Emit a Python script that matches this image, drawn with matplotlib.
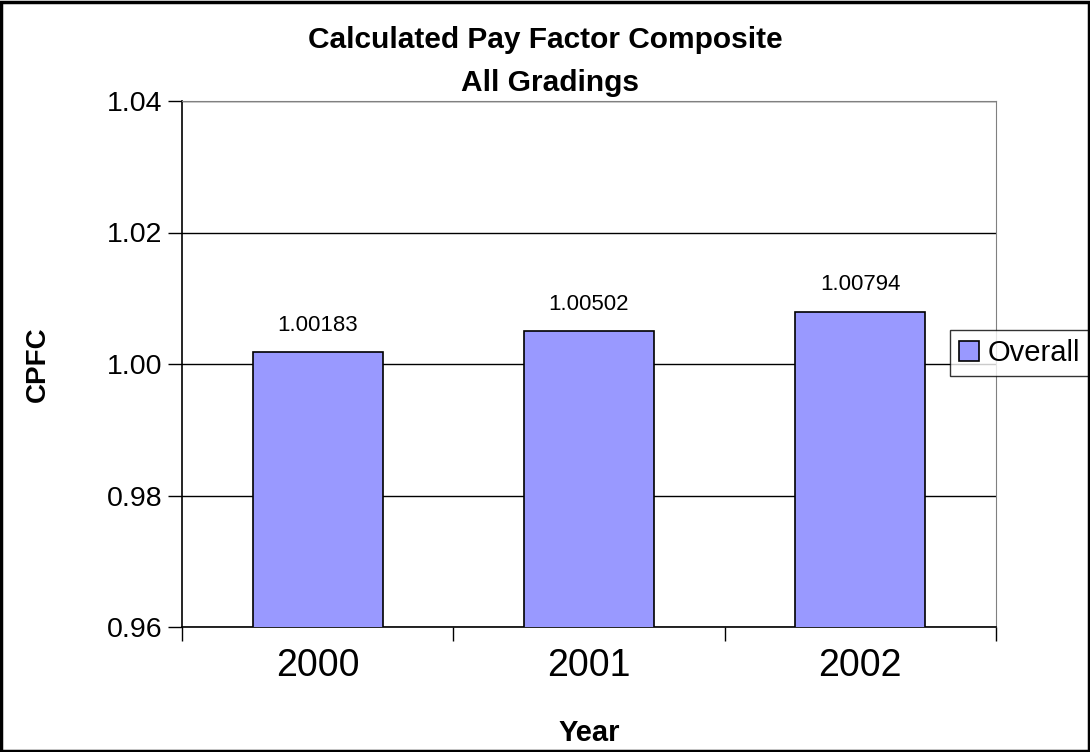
import matplotlib.pyplot as plt
import numpy as np

years = ["2000", "2001", "2002"]
cpfc = [1.00183, 1.00502, 1.00794]
yticks = [0.96, 0.98, 1.00, 1.02, 1.04]

plt.rcParams['font.family'] = ['Liberation Sans', 'DejaVu Sans']

fig = plt.figure(figsize=(10.9, 7.52), dpi=100)
ax = fig.add_axes([182 / 1090, 1 - 627 / 752, (996 - 182) / 1090, (627 - 101) / 752])

x = np.arange(len(years))
ax.bar(x, cpfc, width=0.48, color="#9999FF", edgecolor="black", linewidth=1.2,
       label="Overall", zorder=3)
for xi, v in zip(x, cpfc):
    ax.text(xi, v + 0.0025, "%.5f" % v, ha="center", va="bottom", fontsize=16)

ax.set_xlim(-0.5, 2.5)
ax.set_ylim(0.96, 1.04)
ax.set_yticks(yticks)
ax.set_yticklabels(["%.2f" % t for t in yticks], fontsize=20.5)
ax.set_xticks(x)
ax.set_xticklabels(years, fontsize=27)
ax.set_xticks([-0.5, 0.5, 1.5, 2.5], minor=True)
ax.tick_params(axis="x", which="major", length=0, pad=15)
ax.tick_params(axis="x", which="minor", length=10, width=1, direction="out")
ax.tick_params(axis="y", length=10, width=1, direction="out", pad=4)
ax.grid(axis="y", color="black", linewidth=1, zorder=0)

for side in ["top", "right"]:
    ax.spines[side].set_color("#808080")
for side in ["left", "bottom"]:
    ax.spines[side].set_color("black")
    ax.spines[side].set_linewidth(1.2)

# two-line title, centred on the figure
fig.text(0.5, 1 - 48 / 752, "Calculated Pay Factor Composite", ha="center",
         va="baseline", fontsize=21.5, fontweight="bold")
fig.text(0.505, 1 - 91 / 752, "All Gradings", ha="center", va="baseline",
         fontsize=21.5, fontweight="bold")
ax.set_xlabel("Year", fontsize=21, fontweight="bold", labelpad=25)
ax.set_ylabel("CPFC", fontsize=20, fontweight="bold", labelpad=40)

leg = ax.legend(loc="center left", bbox_to_anchor=(950 / 1090, 1 - 353 / 752),
                bbox_transform=fig.transFigure, fontsize=21, frameon=True,
                fancybox=False, edgecolor="black", handlelength=0.7,
                handleheight=0.7, handletextpad=0.3, borderpad=0.3,
                borderaxespad=0)
leg.get_frame().set_linewidth(1)

fig.patches.append(plt.Rectangle((0.001, 0.001), 0.998, 0.997, transform=fig.transFigure,
                                 fill=False, edgecolor="black", linewidth=2.5))

fig.savefig("out.png", dpi=100)
plt.close(fig)
